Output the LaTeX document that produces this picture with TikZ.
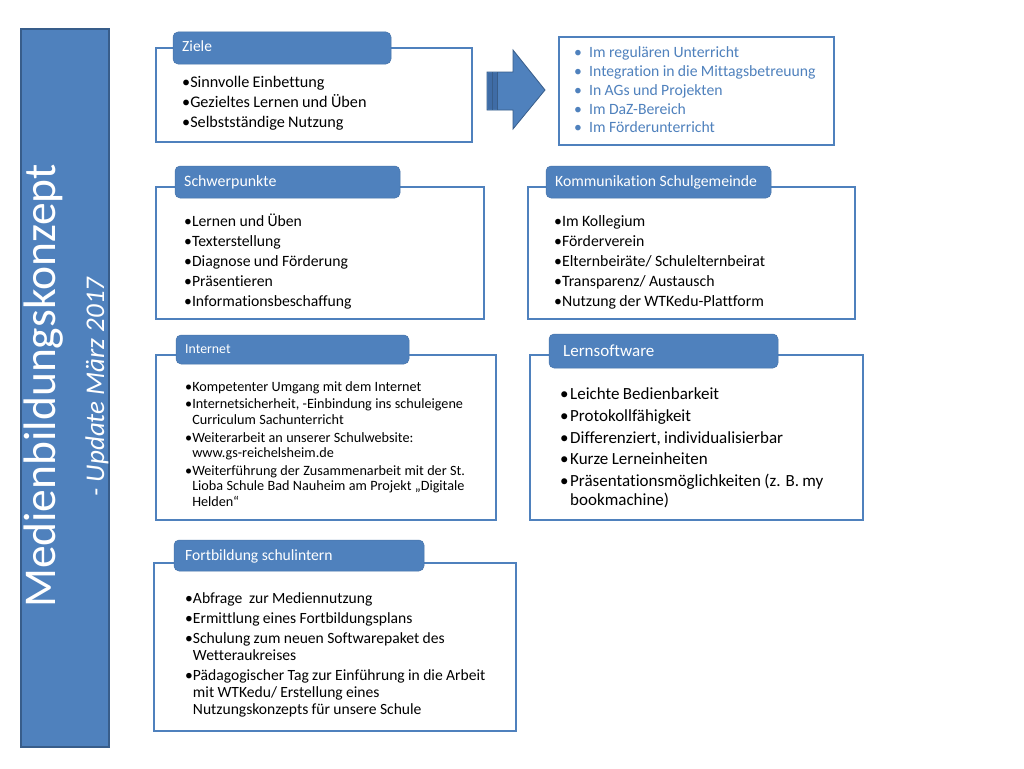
\documentclass[tikz,border=0pt]{standalone}
\usepackage{fontspec}
\setmainfont[Ligatures={NoCommon}]{Carlito}
\definecolor{blu}{HTML}{4F81BD}
\definecolor{bord}{HTML}{385D8A}
\definecolor{blud}{HTML}{3F6CA6}
\newlength\bw
\newcommand\bitem[1]{\par\noindent\hangindent=\bw\hangafter=1\strut\makebox[\bw][l]{•}#1}
\tikzset{
  frame/.style={draw=blu, line width=2.6pt},
  tab/.style={fill=blu, draw=blu!90!black, line width=0.5pt, rounded corners=5pt},
  ttl/.style={anchor=base west, inner sep=0pt, text=white},
  body/.style={anchor=north west, inner sep=0pt, text width=#1, align=left},
}
\begin{document}
\begin{tikzpicture}[x=1pt,y=-1pt]
\useasboundingbox (0,0) rectangle (1024,768);
\fill[white] (0,0) rectangle (1024,768);
% banner
\draw[fill=blu, draw=bord, line width=2pt] (21,29) rectangle (109,747);
\node[rotate=90, text=white, font=\fontsize{45.5}{45.5}\selectfont] (ttl) at (43.5,386) {Medienbildungskonzept};
\node[rotate=90, text=white, font=\fontsize{27}{27}\selectfont\itshape] (sub) at (97,387) {- Update März 2017};

% Ziele
\draw[frame] (156,48) rectangle (472,142);
\draw[tab] (173,32) rectangle (391,64);
\node[ttl, font=\fontsize{15.5}{15.5}\selectfont] (zt) at (182,52) {Ziele};
\node[body=300pt] (zb) at (182,67) {\fontsize{16.2}{20}\selectfont\settowidth\bw{•}%
\bitem{Sinnvolle Einbettung}\bitem{Gezieltes Lernen und Üben}\bitem{Selbstständige Nutzung}\par};

% arrow
\draw[fill=blu, draw=bord, line width=0.8pt] (487,72) -- (513,72) -- (513,50) -- (545,90) -- (513,129) -- (513,110) -- (487,110) -- cycle;
\fill[blud] (488,73) rectangle (497,109);
\draw[bord, line width=0.6pt] (492,72) -- (492,110);
\draw[bord, line width=0.6pt] (497,72) -- (497,110);

% right list
\draw[frame] (559,37) rectangle (834,145);
\node[body=270pt, text=blu] (rb) at (574,38.9) {\fontsize{15.7}{18.75}\selectfont\setlength\bw{15pt}%
\bitem{Im regulären Unterricht}\bitem{Integration in die Mittagsbetreuung}\bitem{In AGs und Projekten}\bitem{Im DaZ-Bereich}\bitem{Im Förderunterricht}\par};

% Schwerpunkte
\draw[frame] (156,187) rectangle (484,319);
\draw[tab] (175,166) rectangle (400,198);
\node[ttl, font=\fontsize{15.9}{15.9}\selectfont] (st) at (184,186) {Schwerpunkte};
\node[body=300pt] (sb) at (184,206) {\fontsize{15.7}{20}\selectfont\settowidth\bw{•}%
\bitem{Lernen und Üben}\bitem{Texterstellung}\bitem{Diagnose und Förderung}\bitem{Präsentieren}\bitem{Informationsbeschaffung}\par};

% Kommunikation
\draw[frame] (528,187) rectangle (855,319);
\draw[tab] (546,166) rectangle (771,198);
\node[ttl, font=\fontsize{15.7}{15.7}\selectfont] (kt) at (555,186) {Kommunikation Schulgemeinde};
\node[body=300pt] (kb) at (554,206) {\fontsize{15.8}{20}\selectfont\settowidth\bw{•}%
\bitem{Im Kollegium}\bitem{Förderverein}\bitem{Elternbeiräte/ Schulelternbeirat}\bitem{Transparenz/ Austausch}\bitem{Nutzung der WTKedu-Plattform}\par};

% Internet
\draw[frame] (156,355) rectangle (496,520);
\draw[tab] (176,335) rectangle (409,364);
\node[ttl, font=\fontsize{13.8}{13.8}\selectfont] (it) at (185,353.5) {Internet};
\node[body=320pt] (ib) at (185,373) {\fontsize{14.2}{15.5}\selectfont\setlength\parskip{2.3pt}\settowidth\bw{•}%
\bitem{Kompetenter Umgang mit dem Internet}%
\bitem{Internetsicherheit, -Einbindung ins schuleigene\newline Curriculum Sachunterricht}%
\bitem{Weiterarbeit an unserer Schulwebsite:\newline www.gs-reichelsheim.de}%
\bitem{Weiterführung der Zusammenarbeit mit der St.\newline Lioba Schule Bad Nauheim am Projekt „Digitale\newline Helden“}\par};

% Lernsoftware
\draw[frame] (530,355) rectangle (863,520);
\draw[tab] (549,334) rectangle (778,368);
\node[ttl, font=\fontsize{17}{17}\selectfont] (lt) at (563,356) {Lernsoftware};
\node[body=310pt] (lb) at (560,377.7) {\fontsize{17}{19}\selectfont\setlength\parskip{2.7pt}\setlength\bw{10pt}%
\bitem{Leichte Bedienbarkeit}\bitem{Protokollfähigkeit}\bitem{Differenziert, individualisierbar}\bitem{Kurze Lerneinheiten}%
\bitem{Präsentationsmöglichkeiten (z. B. my\newline bookmachine)}\par};

% Fortbildung
\draw[frame] (154,563) rectangle (516,731);
\draw[tab] (174,540) rectangle (424,571);
\node[ttl, font=\fontsize{15.6}{15.6}\selectfont] (ft) at (185,560) {Fortbildung schulintern};
\node[body=340pt] (fb) at (185,583.1) {\fontsize{15.6}{17}\selectfont\setlength\parskip{3pt}\settowidth\bw{•}%
\bitem{Abfrage\ \ zur Mediennutzung}\bitem{Ermittlung eines Fortbildungsplans}%
\bitem{Schulung zum neuen Softwarepaket des\newline Wetteraukreises}%
\bitem{Pädagogischer Tag zur Einführung in die Arbeit\newline mit WTKedu/ Erstellung eines\newline Nutzungskonzepts für unsere Schule}\par};
\end{tikzpicture}
\end{document}
